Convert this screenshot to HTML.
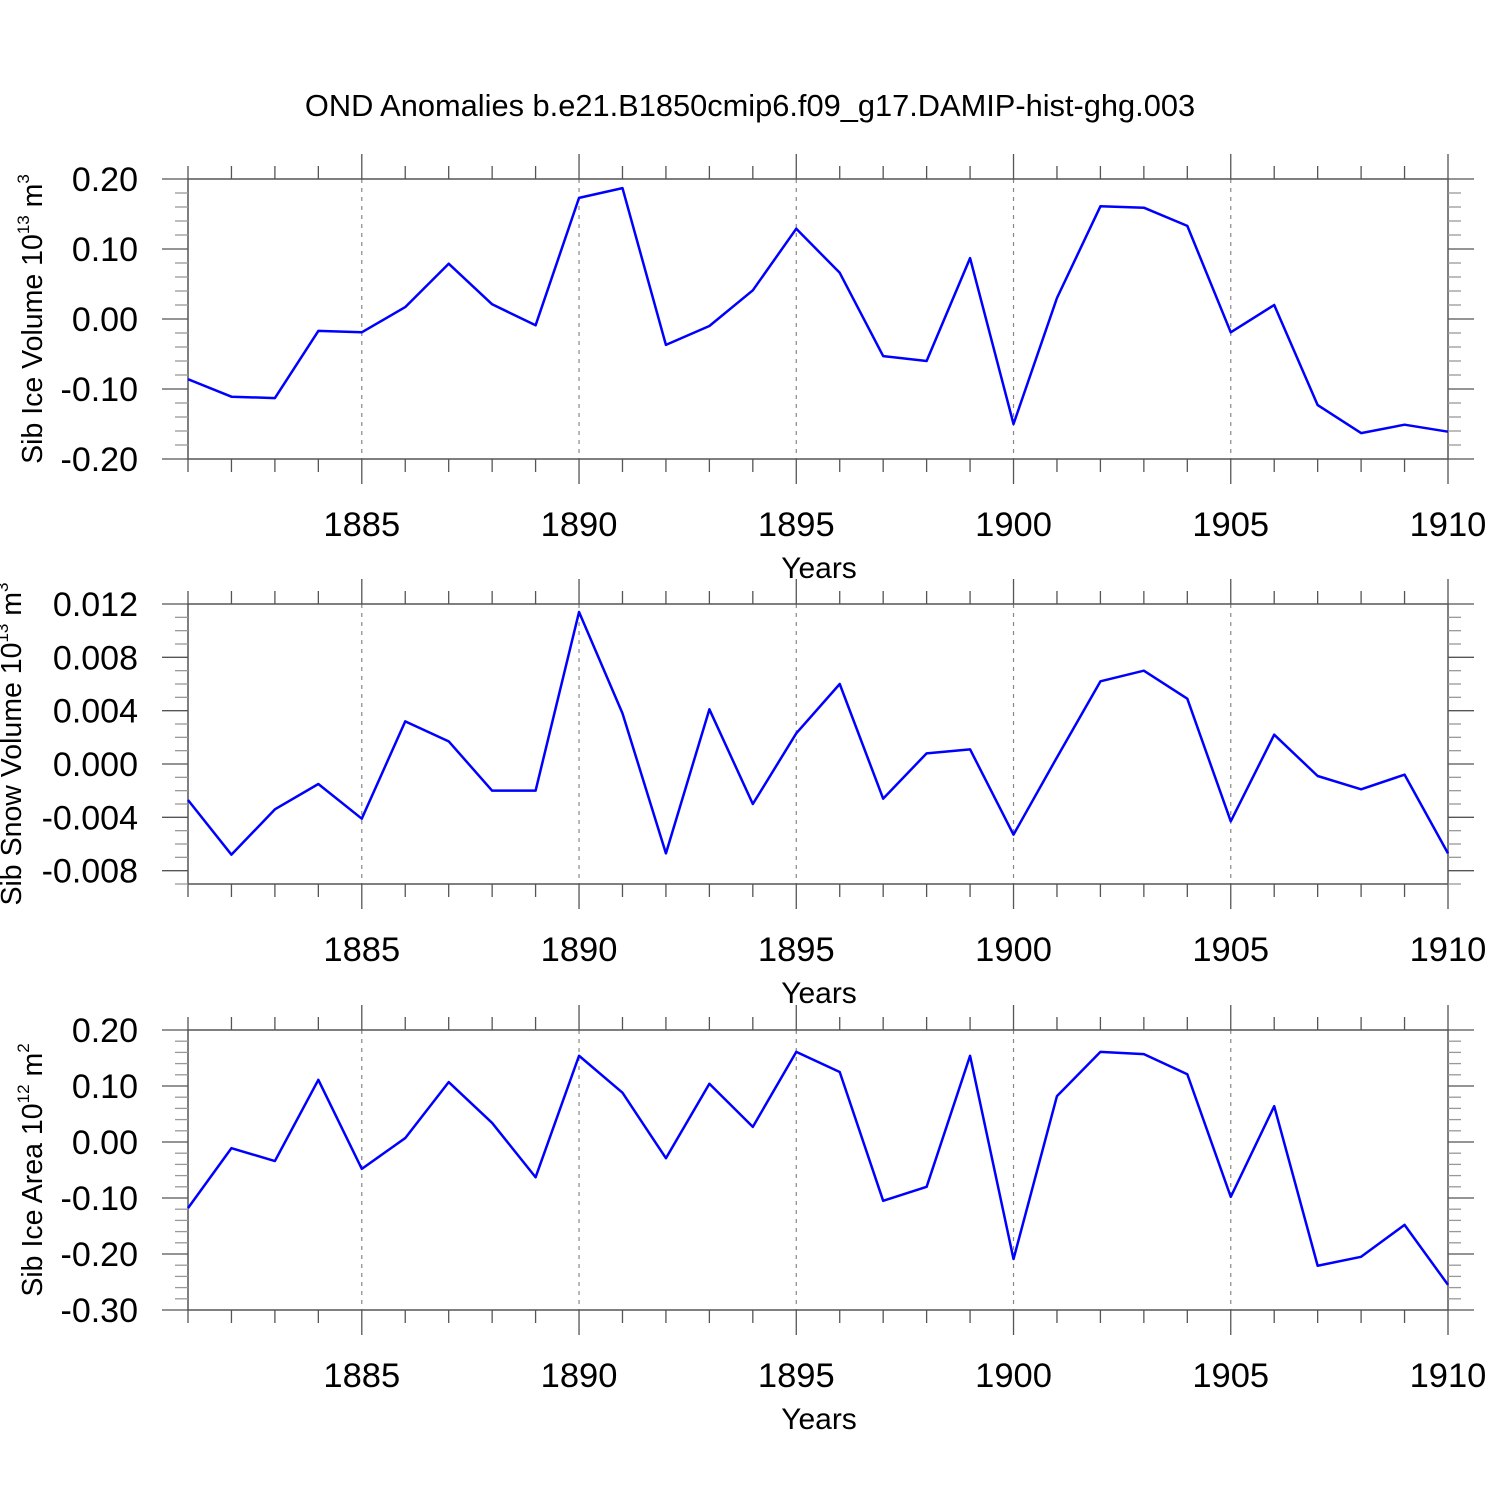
<!DOCTYPE html>
<html><head><meta charset="utf-8"><style>
body{margin:0;background:#fff}
svg text{font-family:"Liberation Sans",Arial,sans-serif;fill:#000}
</style></head><body>
<svg id="chart" width="1500" height="1500" xmlns="http://www.w3.org/2000/svg">
<text x="750" y="116" font-size="30.8" text-anchor="middle">OND Anomalies b.e21.B1850cmip6.f09_g17.DAMIP-hist-ghg.003</text>
</svg>
<script>
const years=[1881,1882,1883,1884,1885,1886,1887,1888,1889,1890,1891,1892,1893,1894,1895,1896,1897,1898,1899,1900,1901,1902,1903,1904,1905,1906,1907,1908,1909,1910];
const iceVolume=[-0.086,-0.111,-0.113,-0.017,-0.019,0.017,0.079,0.021,-0.009,0.173,0.187,-0.037,-0.010,0.041,0.129,0.066,-0.053,-0.060,0.087,-0.150,0.030,0.161,0.159,0.133,-0.019,0.020,-0.123,-0.163,-0.151,-0.161];
const snowVolume=[-0.0027,-0.0068,-0.0034,-0.0015,-0.0041,0.0032,0.0017,-0.0020,-0.0020,0.0114,0.0038,-0.0067,0.0041,-0.0030,0.0023,0.0060,-0.0026,0.0008,0.0011,-0.0053,0.0005,0.0062,0.0070,0.0049,-0.0043,0.0022,-0.0009,-0.0019,-0.0008,-0.0067];
const iceArea=[-0.118,-0.011,-0.034,0.111,-0.048,0.007,0.107,0.034,-0.063,0.154,0.088,-0.029,0.104,0.027,0.161,0.125,-0.105,-0.080,0.154,-0.209,0.082,0.161,0.157,0.121,-0.098,0.064,-0.221,-0.205,-0.148,-0.255];
const xTicks=[1885,1890,1895,1900,1905,1910];
const ticks1=["0.20","0.10","0.00","-0.10","-0.20"];
const ticks2=["0.012","0.008","0.004","0.000","-0.004","-0.008"];
const ticks3=["0.20","0.10","0.00","-0.10","-0.20","-0.30"];

const svg=document.getElementById('chart');
const NS='http://www.w3.org/2000/svg';
function mk(t,a){const e=document.createElementNS(NS,t);for(const k in a)e.setAttribute(k,a[k]);svg.appendChild(e);return e;}
const X0=188,X1=1448;
const xs=y=>X0+(y-1881)/(1910-1881)*(X1-X0);

function panel(key,top,ymax,ymin,ticks,step,minorStep,data,titleHTML,titleX){
  const bot=top+280;
  const ys=v=>top+(ymax-v)/(ymax-ymin)*280;
  const g=mk('g',{});
  
  
  xTicks.slice(0,-1).forEach(t=>{const l=mk('line',{x1:xs(t),x2:xs(t),y1:top,y2:bot,stroke:'#888','stroke-width':1.2,'stroke-dasharray':'4,5'});
    
    });
  const b=mk('rect',{x:X0,y:top,width:X1-X0,height:280,fill:'none',stroke:'#555','stroke-width':1.5});
  
  
  years.forEach(yr=>{const maj=xTicks.includes(yr);const len=maj?25:13;const x=xs(yr);
    mk('line',{x1:x,x2:x,y1:top,y2:top-len,stroke:'#555','stroke-width':1.3});
    mk('line',{x1:x,x2:x,y1:bot,y2:bot+len,stroke:'#555','stroke-width':1.3});});
  xTicks.forEach(t=>{const tx=mk('text',{x:xs(t),y:bot+77,'font-size':34.5,'text-anchor':'middle'});tx.textContent=t;
    
    });
  const xl=mk('text',{x:819,y:bot+119,'font-size':30,'text-anchor':'middle'});xl.textContent='Years';
  
  
  const n=Math.round((ymax-ymin)/minorStep);
  for(let i=0;i<=n;i++){const v=ymax-i*minorStep;const y=ys(v);
    const maj=Math.abs(Math.round((ymax-v)/step)*step-(ymax-v))<minorStep/10 && i*minorStep<=(ticks.length-1)*step+1e-9;
    const len=maj?26:13;
    mk('line',{x1:X0,x2:X0-len,y1:y,y2:y,stroke:maj?'#555':'#999','stroke-width':1.3});
    mk('line',{x1:X1,x2:X1+len,y1:y,y2:y,stroke:maj?'#555':'#999','stroke-width':1.3});}
  ticks.forEach((t,i)=>{const v=ymax-i*step;const tx=mk('text',{x:138,y:ys(v)+12,'font-size':34,'text-anchor':'end'});tx.textContent=t;
    
    });
  const yt=mk('text',{transform:`translate(${titleX},${top+140}) rotate(-90)`,'font-size':28.5,'text-anchor':'middle'});
  yt.innerHTML=titleHTML;
  
  
  const p=mk('polyline',{points:data.map((v,i)=>xs(years[i])+','+ys(v)).join(' '),fill:'none',stroke:'#0000ff','stroke-width':2.5,'stroke-linejoin':'round'});
  
  
}
panel('ice-volume',179,0.2,-0.2,ticks1,0.1,0.02,iceVolume,'Sib Ice Volume 10<tspan font-size="17" dy="-13">13</tspan><tspan dy="13"> m</tspan><tspan font-size="17" dy="-13">3</tspan>',42);
panel('snow-volume',604,0.012,-0.009,ticks2,0.004,0.001,snowVolume,'Sib Snow Volume 10<tspan font-size="17" dy="-13">13</tspan><tspan dy="13"> m</tspan><tspan font-size="17" dy="-13">3</tspan>',21);
panel('ice-area',1030,0.2,-0.3,ticks3,0.1,0.02,iceArea,'Sib Ice Area 10<tspan font-size="17" dy="-13">12</tspan><tspan dy="13"> m</tspan><tspan font-size="17" dy="-13">2</tspan>',42);
</script>
</body></html>
